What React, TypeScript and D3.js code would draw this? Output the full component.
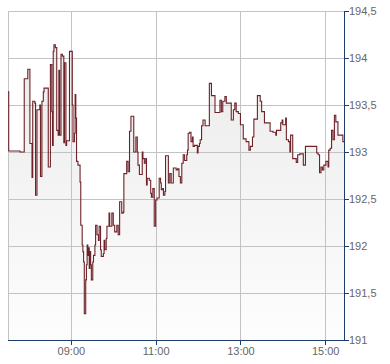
import React from "react";
import * as d3 from "d3";

const times = [
  "07:31","07:32","07:48","07:54","07:59","08:02","08:05","08:06","08:09","08:10",
  "08:12","08:16","08:17","08:19","08:21","08:22","08:28","08:31","08:33","08:34",
  "08:35","08:36","08:38","08:40","08:42","08:43","08:44","08:46","08:48","08:50",
  "08:51","08:53","08:54","08:58","09:02","09:03","09:05","09:06","09:07","09:08",
  "09:10","09:13","09:14","09:16","09:17","09:18","09:19","09:21","09:22","09:23",
  "09:24","09:25","09:26","09:27","09:28","09:29","09:31","09:32","09:34","09:35",
  "09:37","09:39","09:40","09:42","09:43","09:46","09:47","09:48","09:50","09:51",
  "09:54","09:55","09:58","10:00","10:02","10:05","10:07","10:09","10:12","10:14",
  "10:15","10:19","10:21","10:23","10:25","10:29","10:32","10:34","10:35","10:37",
  "10:41","10:42","10:44","10:46","10:47","10:48","10:51","10:53","10:54","10:56",
  "10:58","11:00","11:02","11:05","11:07","11:08","11:10","11:11","11:13","11:14",
  "11:18","11:20","11:22","11:25","11:29","11:31","11:33","11:35","11:37","11:39",
  "11:41","11:44","11:45","11:46","11:48","11:50","11:52","11:53","11:55","11:59",
  "12:00","12:02","12:03","12:05","12:07","12:10","12:16","12:19","12:24","12:31",
  "12:33","12:35","12:38","12:40","12:47","12:50","12:52","12:54","12:57","13:00",
  "13:04","13:08","13:12","13:14","13:17","13:19","13:24","13:28","13:30","13:34",
  "13:42","13:46","13:50","13:51","13:57","13:59","14:00","14:04","14:05","14:08",
  "14:10","14:11","14:14","14:19","14:21","14:24","14:29","14:32","14:48","14:50",
  "14:52","14:54","14:56","14:58","15:01","15:04","15:05","15:07","15:09","15:11",
  "15:13","15:15","15:18","15:25",
];

const prices = [
  193.64,193.01,193.00,193.78,193.88,193.09,192.73,193.54,193.52,192.54,
  193.45,193.50,192.74,193.54,193.64,193.68,192.84,193.93,193.43,193.07,
  194.07,194.14,194.11,193.23,193.18,193.87,193.18,194.04,194.02,193.10,
  193.95,193.07,193.12,194.07,193.50,193.11,193.20,193.61,193.36,192.90,
  192.86,192.68,192.22,192.01,191.94,191.83,191.28,191.64,191.80,192.01,
  191.90,191.98,191.76,191.94,191.80,191.64,191.83,191.90,192.01,192.22,
  192.12,192.06,192.21,191.96,191.89,191.92,192.06,191.96,192.08,192.21,
  192.35,192.21,192.35,192.22,192.15,192.22,192.12,192.47,192.35,192.36,
  192.77,192.90,192.79,193.22,193.38,193.00,193.16,193.00,192.86,192.76,
  193.00,192.93,192.88,192.93,192.65,192.72,192.70,192.56,192.52,192.61,
  192.21,192.49,192.51,192.72,192.67,192.60,192.61,192.54,192.58,192.96,
  192.67,192.77,192.67,192.83,192.81,192.82,192.74,192.67,192.88,192.97,
  192.91,192.97,193.02,193.20,193.21,193.11,193.16,193.06,193.07,192.99,
  193.06,193.09,193.13,193.28,193.34,193.28,193.73,193.60,193.42,193.55,
  193.43,193.54,193.59,193.52,193.34,193.45,193.52,193.43,193.41,193.29,
  193.14,193.11,193.02,193.06,193.16,193.35,193.60,193.54,193.43,193.31,
  193.22,193.21,193.18,193.23,193.31,193.34,193.29,193.36,193.13,193.11,
  193.00,193.18,192.93,192.89,192.97,192.98,192.86,193.06,192.99,192.97,
  192.78,192.84,192.81,192.86,192.90,192.84,193.02,193.04,193.23,193.13,
  193.39,193.32,193.18,193.11,
];

const timeDomain = ["07:31", "15:28"];
const xTicks = ["09:00", "11:00", "13:00", "15:00"];
const yTicks = [191, 191.5, 192, 192.5, 193, 193.5, 194, 194.5];

const toMin = (s: string) => {
  const [h, m] = s.split(":").map(Number);
  return h * 60 + m;
};

const W = 390;
const H = 364;
const LEFT = 8;
const RIGHT = 345;
const TOP = 11;
const BOTTOM = 340;

export default function App() {
  const x = d3
    .scaleLinear()
    .domain(timeDomain.map(toMin))
    .range([LEFT, RIGHT]);
  const y = d3.scaleLinear().domain([191, 194.5]).range([BOTTOM, TOP]);

  const n = Math.min(times.length, prices.length);
  const data: [number, number][] = [];
  for (let i = 0; i < n; i++) data.push([toMin(times[i]), prices[i]]);
  data.push([toMin(timeDomain[1]), prices[n - 1]]);

  const line = d3
    .line<[number, number]>()
    .x((d) => x(d[0]))
    .y((d) => y(d[1]))
    .curve(d3.curveStepAfter);
  const area = d3
    .area<[number, number]>()
    .x((d) => x(d[0]))
    .y0(y(191))
    .y1((d) => y(d[1]))
    .curve(d3.curveStepAfter);

  const crisp = (v: number) => Math.round(v) + 0.5;
  const axisColor = "#1c3c6c";
  const gridColor = "#c3c3c3";
  const font = "'Liberation Sans', Arial, sans-serif";

  return (
    <svg
      width={W}
      height={H}
      style={{ position: "absolute", left: 0, top: 0, background: "#fff" }}
    >
      <defs>
        <linearGradient id="fillGrad" gradientUnits="userSpaceOnUse" x1="0" y1={TOP} x2="0" y2={BOTTOM}>
          <stop offset="0%" stopColor="#e9e9e9" />
          <stop offset="100%" stopColor="#fdfdfd" />
        </linearGradient>
        <clipPath id="plotClip">
          <rect x={LEFT} y={TOP} width={RIGHT - LEFT} height={BOTTOM - TOP} />
        </clipPath>
      </defs>

      <path d={area(data) || ""} fill="url(#fillGrad)" clipPath="url(#plotClip)" />

      {yTicks.map((t) => (
        <line
          key={"gy" + t}
          x1={LEFT}
          x2={RIGHT}
          y1={crisp(y(t))}
          y2={crisp(y(t))}
          stroke={gridColor}
          strokeWidth={1}
        />
      ))}
      {xTicks.map((t) => (
        <line
          key={"gx" + t}
          x1={crisp(x(toMin(t)))}
          x2={crisp(x(toMin(t)))}
          y1={TOP}
          y2={BOTTOM}
          stroke={gridColor}
          strokeWidth={1}
        />
      ))}
      <line x1={LEFT + 0.5} x2={LEFT + 0.5} y1={TOP} y2={BOTTOM} stroke={gridColor} />

      <path
        d={line(data) || ""}
        fill="none"
        stroke="#6e2228"
        strokeWidth={1.1}
        clipPath="url(#plotClip)"
      />

      <line x1={RIGHT - 0.5} x2={RIGHT - 0.5} y1={TOP} y2={BOTTOM + 1} stroke={axisColor} />
      <line x1={LEFT} x2={RIGHT} y1={BOTTOM + 0.5} y2={BOTTOM + 0.5} stroke={axisColor} />

      {yTicks.map((t) => (
        <g key={"ty" + t}>
          <line
            x1={RIGHT}
            x2={RIGHT + 4}
            y1={crisp(y(t))}
            y2={crisp(y(t))}
            stroke={axisColor}
          />
          <text
            x={RIGHT + 4}
            y={y(t) + 4}
            fontSize={11}
            fontFamily={font}
            fill="#666"
          >
            {d3.format(",")(t).replace(".", ",")}
          </text>
        </g>
      ))}
      {xTicks.map((t) => (
        <g key={"tx" + t}>
          <line
            x1={crisp(x(toMin(t)))}
            x2={crisp(x(toMin(t)))}
            y1={BOTTOM}
            y2={BOTTOM + 5}
            stroke={axisColor}
          />
          <text
            x={x(toMin(t)) + 0.5}
            y={BOTTOM + 15}
            fontSize={11}
            fontFamily={font}
            fill="#666"
            textAnchor="middle"
          >
            {t}
          </text>
        </g>
      ))}
    </svg>
  );
}
